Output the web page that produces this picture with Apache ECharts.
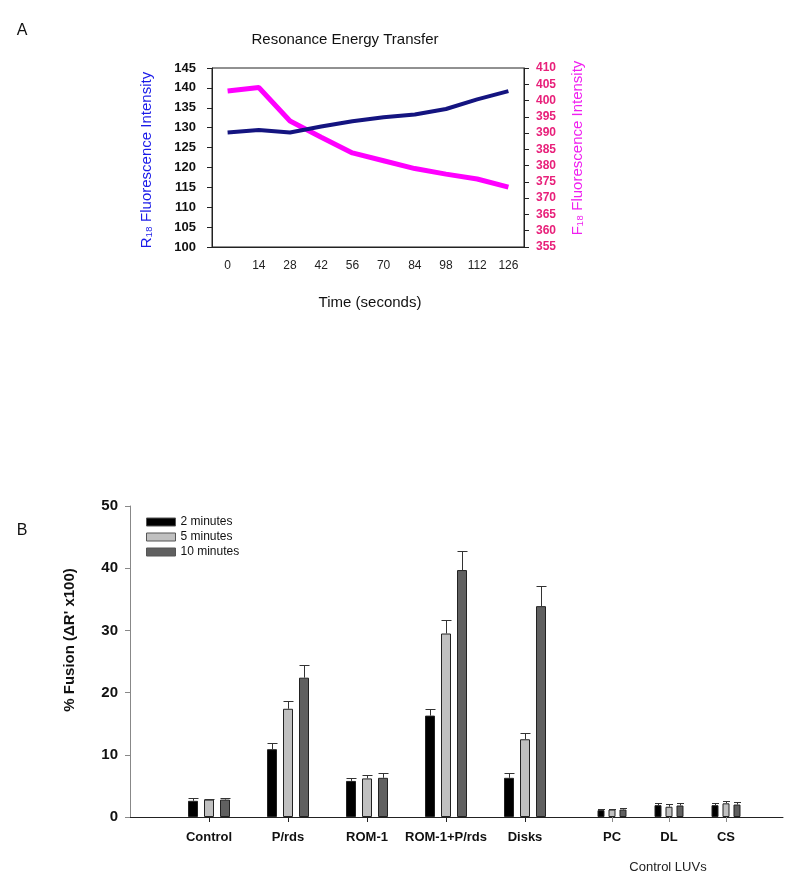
<!DOCTYPE html>
<html><head><meta charset="utf-8">
<script src="https://cdn.jsdelivr.net/npm/echarts@6/dist/echarts.min.js"></script>
<style>html,body{margin:0;padding:0;background:#fff}#c{width:800px;height:888px}</style>
</head><body><div id="c"></div><script>
// ---- Panel A data ----
const timeLabels = ['0','14','28','42','56','70','84','98','112','126'];
const r18Values = [128.8,129.4,128.8,130.3,131.6,132.6,133.3,134.7,137.1,139.2];
const f18Values = [402.9,404.0,393.7,388.7,383.9,381.5,379.1,377.4,375.9,373.4];

// ---- Panel B data ----
const mainCategories = ['Control','P/rds','ROM-1','ROM-1+P/rds','Disks'];
const luvCategories = ['PC','DL','CS'];
const seriesNames = ['2 minutes','5 minutes','10 minutes'];
const main2min  = [2.6,10.9,5.8,16.3,6.3];
const main5min  = [2.8,17.4,6.2,29.5,12.5];
const main10min = [2.8,22.4,6.3,39.7,33.9];
const mainErr2  = [0.4,1.0,0.5,1.0,0.8];
const mainErr5  = [0.1,1.3,0.5,2.1,1.0];
const mainErr10 = [0.2,2.1,0.7,3.1,3.2];
const luv2min  = [1.1,1.9,1.9];
const luv5min  = [1.2,1.65,2.2];
const luv10min = [1.2,1.85,2.0];
const luvErr2  = [0.2,0.4,0.3];
const luvErr5  = [0.15,0.5,0.4];
const luvErr10 = [0.2,0.4,0.4];

const FONT = '"Liberation Sans", Arial, sans-serif';
const barColors = ['#000000','#c0c0c0','#606060'];

const mainCatsPadded = [''].concat(mainCategories, ['']);
const luvCatsPadded = [''].concat(luvCategories, ['']);
const pad = arr => [null].concat(arr, [null]);
const showNonEmpty = (i, v) => v !== '';

const mainVals = [main2min, main5min, main10min];
const mainErrs = [mainErr2, mainErr5, mainErr10];
const luvVals = [luv2min, luv5min, luv10min];
const luvErrs = [luvErr2, luvErr5, luvErr10];

function errRender(barW, gap, k) {
  return function (params, api) {
    const x = api.value(0), v = api.value(1), e = api.value(2);
    const base = api.coord([x, v]);
    const top = api.coord([x, v + e]);
    const cx = Math.round(base[0] + (k - 1) * (barW + gap)) + 0.5;
    const hw = barW / 2;
    const ty = Math.round(top[1]) + 0.5;
    return { type: 'group', children: [
      { type: 'line', shape: { x1: cx, y1: base[1], x2: cx, y2: ty }, style: { stroke: '#333', lineWidth: 1 } },
      { type: 'line', shape: { x1: cx - hw, y1: ty, x2: cx + hw, y2: ty }, style: { stroke: '#333', lineWidth: 1 } }
    ]};
  };
}

const series = [
  { type: 'line', name: 'F18', xAxisIndex: 0, yAxisIndex: 1, data: f18Values, symbol: 'none',
    lineStyle: { color: '#ff00ff', width: 5 }, itemStyle: { color: '#ff00ff' }, z: 3 },
  { type: 'line', name: 'R18', xAxisIndex: 0, yAxisIndex: 0, data: r18Values, symbol: 'none',
    lineStyle: { color: '#141480', width: 4 }, itemStyle: { color: '#141480' }, z: 4 }
];
for (let k = 0; k < 3; k++) {
  series.push({ type: 'bar', name: seriesNames[k], xAxisIndex: 1, yAxisIndex: 2, data: pad(mainVals[k]),
    barWidth: 10, barGap: '60%', itemStyle: { color: barColors[k], borderColor: '#222', borderWidth: 1 } });
}
for (let k = 0; k < 3; k++) {
  series.push({ type: 'bar', name: seriesNames[k], xAxisIndex: 2, yAxisIndex: 3, data: pad(luvVals[k]),
    barWidth: 7, barGap: '57%', itemStyle: { color: barColors[k], borderColor: '#222', borderWidth: 1 } });
}
for (let k = 0; k < 3; k++) {
  series.push({ type: 'custom', name: 'errMain' + k, xAxisIndex: 1, yAxisIndex: 2, z: 5,
    renderItem: errRender(10, 6, k),
    data: mainVals[k].map((v, i) => [i + 1, v, mainErrs[k][i]]) });
  series.push({ type: 'custom', name: 'errLuv' + k, xAxisIndex: 2, yAxisIndex: 3, z: 5,
    renderItem: errRender(7, 4, k),
    data: luvVals[k].map((v, i) => [i + 1, v, luvErrs[k][i]]) });
}

const chart = echarts.init(document.getElementById('c'), null, { renderer: 'canvas' });
chart.setOption({
  animation: false,
  textStyle: { fontFamily: FONT },
  grid: [
    { left: 212, top: 68, width: 312, height: 179, show: true, borderColor: '#222', borderWidth: 1 },
    { left: 130, top: 506, width: 474, height: 311 },
    { left: 555, top: 506, width: 228, height: 311 }
  ],
  xAxis: [
    { gridIndex: 0, type: 'category', data: timeLabels, boundaryGap: true,
      axisLine: { lineStyle: { color: '#222' } },
      axisTick: { length: 5, lineStyle: { color: '#222' } },
      axisLabel: { color: '#222', fontSize: 12, margin: 13, fontFamily: FONT } },
    { gridIndex: 1, type: 'category', data: mainCatsPadded, boundaryGap: false,
      axisLine: { lineStyle: { color: '#222' } },
      axisTick: { length: 5, interval: showNonEmpty, lineStyle: { color: '#222' } },
      axisLabel: { interval: showNonEmpty, color: '#111', fontSize: 13, fontWeight: 'bold', margin: 14, fontFamily: FONT } },
    { gridIndex: 2, type: 'category', data: luvCatsPadded, boundaryGap: false,
      axisLine: { lineStyle: { color: '#222' } },
      axisTick: { length: 5, interval: showNonEmpty, lineStyle: { color: '#888' } },
      axisLabel: { interval: showNonEmpty, color: '#111', fontSize: 13, fontWeight: 'bold', margin: 14, fontFamily: FONT } }
  ],
  yAxis: [
    { gridIndex: 0, type: 'value', position: 'left', min: 100, max: 145, interval: 5,
      splitLine: { show: false },
      axisLine: { show: true, lineStyle: { color: '#222' } },
      axisTick: { show: true, length: 5, lineStyle: { color: '#222' } },
      axisLabel: { color: '#111', fontSize: 13, fontWeight: 'bold', margin: 16, fontFamily: FONT } },
    { gridIndex: 0, type: 'value', position: 'right', min: 355, max: 410, interval: 5,
      splitLine: { show: false },
      axisLine: { show: true, lineStyle: { color: '#222' } },
      axisTick: { show: true, length: 5, lineStyle: { color: '#222' } },
      axisLabel: { color: '#e8207a', fontSize: 12, fontWeight: 'bold', margin: 12, fontFamily: FONT } },
    { gridIndex: 1, type: 'value', min: 0, max: 50, interval: 10,
      splitLine: { show: false },
      axisLine: { show: true, lineStyle: { color: '#888' } },
      axisTick: { show: true, length: 5, lineStyle: { color: '#888' } },
      axisLabel: { color: '#111', fontSize: 15, fontWeight: 'bold', margin: 12, fontFamily: FONT } },
    { gridIndex: 2, type: 'value', min: 0, max: 50, interval: 10, show: false }
  ],
  legend: {
    data: seriesNames, orient: 'vertical', left: 141, top: 510,
    itemWidth: 29, itemHeight: 8, itemGap: 1, icon: 'rect',
    itemStyle: { borderColor: '#555', borderWidth: 1 },
    textStyle: { fontSize: 12, color: '#111', lineHeight: 14, fontFamily: FONT }
  },
  graphic: [
    { type: 'text', x: 22, y: 31, style: { text: 'A', font: '16px ' + FONT, fill: '#111', align: 'center', verticalAlign: 'middle' } },
    { type: 'text', x: 345, y: 40, style: { text: 'Resonance Energy Transfer', font: '15px ' + FONT, fill: '#111', align: 'center', verticalAlign: 'middle' } },
    { type: 'text', x: 370, y: 303, style: { text: 'Time (seconds)', font: '15px ' + FONT, fill: '#111', align: 'center', verticalAlign: 'middle' } },
    { type: 'text', x: 147, y: 160, rotation: Math.PI / 2, style: { text: 'R\u2081\u2088 Fluorescence Intensity', font: '15px ' + FONT, fill: '#1a1ae8', align: 'center', verticalAlign: 'middle' } },
    { type: 'text', x: 578, y: 148, rotation: Math.PI / 2, style: { text: 'F\u2081\u2088 Fluorescence Intensity', font: '15px ' + FONT, fill: '#f020f0', align: 'center', verticalAlign: 'middle' } },
    { type: 'text', x: 22, y: 531, style: { text: 'B', font: '16px ' + FONT, fill: '#111', align: 'center', verticalAlign: 'middle' } },
    { type: 'text', x: 70, y: 640, rotation: Math.PI / 2, style: { text: "% Fusion (\u0394R' x100)", font: 'bold 15px ' + FONT, fill: '#111', align: 'center', verticalAlign: 'middle' } },
    { type: 'text', x: 668, y: 867, style: { text: 'Control LUVs', font: '13px ' + FONT, fill: '#222', align: 'center', verticalAlign: 'middle' } }
  ],
  series: series
});
</script></body></html>
